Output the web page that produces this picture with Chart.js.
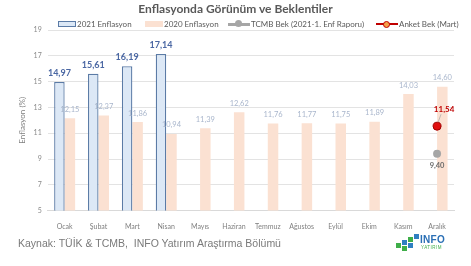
<!DOCTYPE html>
<html><head><meta charset="utf-8">
<script src="https://cdn.jsdelivr.net/npm/chart.js@4/dist/chart.umd.min.js"></script>
<style>
html,body{margin:0;padding:0;background:#fff;}
#wrap{position:relative;width:471px;height:266px;overflow:hidden;font-family:Lato,"Open Sans",sans-serif;}
#c{position:absolute;left:0;top:0;}
#title{position:absolute;left:0;width:471px;top:1px;text-align:center;font-weight:bold;font-size:12px;color:#595959;}
#legend{position:absolute;top:18px;left:58px;height:12px;font-size:8px;color:#595959;white-space:nowrap;}
.li{position:absolute;top:0;display:flex;align-items:center;height:12px;}
.box{display:inline-block;width:18px;height:6px;box-sizing:border-box;}
.ln{display:inline-block;position:relative;width:22px;height:3px;}
.ln i{position:absolute;left:7px;top:-2.5px;width:7px;height:7px;border-radius:50%;box-sizing:border-box;}
#foot{position:absolute;left:18px;top:237px;font-family:"Liberation Sans",Arial,sans-serif;font-size:10.5px;color:#7a7a7a;}
#logo{position:absolute;left:396px;top:234px;width:54px;height:20px;}
.sq{position:absolute;width:5px;height:5px;}
</style></head><body>
<div id="wrap">
<canvas id="c" width="471" height="266"></canvas>
<div id="title">Enflasyonda Görünüm ve Beklentiler</div>
<div id="legend"></div>
<div id="foot">Kaynak: TÜİK &amp; TCMB,&nbsp; INFO Yatırım Araştırma Bölümü</div>
<div id="logo">
  <div class="sq" style="left:0;top:9px;background:#3fae49"></div>
  <div class="sq" style="left:6px;top:6px;background:#2f7fc1"></div>
  <div class="sq" style="left:6px;top:12px;background:#3fae49"></div>
  <div class="sq" style="left:12px;top:3px;background:#3fae49"></div>
  <div class="sq" style="left:12px;top:9px;background:#2f7fc1"></div>
  <div class="sq" style="left:18px;top:0px;background:#2f7fc1"></div>
  <div style="position:absolute;left:24px;top:0px;font-family:'Liberation Sans',Arial,sans-serif;font-weight:bold;font-size:10px;color:#2a6fb5;letter-spacing:0.3px;">INFO</div>
  <div style="position:absolute;left:25px;top:11px;font-family:'Liberation Sans',Arial,sans-serif;font-size:4.5px;color:#3fae49;letter-spacing:0.5px;">YATIRIM</div>
</div>
</div>
<script>
const categories = ["Ocak","Şubat","Mart","Nisan","Mayıs","Haziran","Temmuz","Ağustos","Eylül","Ekim","Kasım","Aralık"];
const infl2021 = [14.97,15.61,16.19,17.14,null,null,null,null,null,null,null,null];
const infl2020 = [12.15,12.37,11.86,10.94,11.39,12.62,11.76,11.77,11.75,11.89,14.03,14.60];
const tcmbExp  = [null,null,null,null,null,null,null,null,null,null,null,9.40];
const surveyExp= [null,null,null,null,null,null,null,null,null,null,null,11.54];
const yTicks = [5,7,9,11,13,15,17,19];
const seriesNames = ["2021 Enflasyon","2020 Enflasyon","TCMB Bek (2021-1. Enf Raporu)","Anket Bek (Mart)"];

const fmt = v => v.toFixed(2).replace('.', ',');

// legend (HTML)
const leg = document.getElementById('legend');
const legPos = [0, 87, 170, 318];
const legMarks = [
  '<span class="box" style="background:#dce8f6;border:1px solid #5b7ba6"></span>',
  '<span class="box" style="background:#fbe1d2"></span>',
  '<span class="ln" style="background:#a6a6a6"><i style="background:#a6a6a6"></i></span>',
  '<span class="ln" style="background:#c00000;height:2px"><i style="background:#f4a04a;border:1.5px solid #c00000;top:-2.5px"></i></span>'
];
seriesNames.forEach((n,i)=>{
  const d=document.createElement('div');d.className='li';d.style.left=legPos[i]+'px';
  d.innerHTML=legMarks[i]+'<span style="margin-left:1px">'+n+'</span>';leg.appendChild(d);
});

const labelPlugin = {
  id:'vlabels',
  afterDatasetsDraw(chart){
    const ctx=chart.ctx;ctx.save();ctx.textAlign='center';ctx.textBaseline='middle';
    chart.data.datasets.forEach((ds,di)=>{
      const meta=chart.getDatasetMeta(di);
      meta.data.forEach((el,i)=>{
        const v=ds.data[i]; if(v==null) return;
        if(di===0){ctx.font='bold 9px Lato, sans-serif';ctx.fillStyle='#4a67a3';ctx.fillText(fmt(v),el.x,el.y-9);}
        else if(di===1){ctx.font='7.5px Lato, sans-serif';ctx.fillStyle='#a9b6cc';ctx.fillText(fmt(v),el.x,el.y-9);}
        else if(di===2){ctx.font='bold 7.5px Lato, sans-serif';ctx.fillStyle='#6b6b6b';ctx.fillText(fmt(v),el.x,el.y+12);}
        else if(di===3){
          ctx.strokeStyle='#a6a6a6';ctx.lineWidth=0.7;ctx.beginPath();ctx.moveTo(el.x+1,el.y-4);ctx.lineTo(el.x+4,el.y-12);ctx.stroke();
          ctx.font='bold 8px Lato, sans-serif';ctx.fillStyle='#c00000';ctx.fillText(fmt(v),el.x+7,el.y-17);
        }
      });
    });
    ctx.restore();
  }
};

new Chart(document.getElementById('c'),{
  data:{labels:categories,datasets:[
    {type:'bar',label:seriesNames[0],data:infl2021,backgroundColor:'#dce8f6',borderColor:'#5b7ba6',borderWidth:1.3,barPercentage:1,categoryPercentage:0.62,order:2},
    {type:'bar',label:seriesNames[1],data:infl2020,backgroundColor:'#fbe1d2',borderWidth:0,barPercentage:1,categoryPercentage:0.62,order:3},
    {type:'line',label:seriesNames[2],data:tcmbExp,borderColor:'#a6a6a6',backgroundColor:'#a6a6a6',pointRadius:4,pointBorderWidth:0,showLine:false,order:1},
    {type:'line',label:seriesNames[3],data:surveyExp,borderColor:'#a00000',backgroundColor:'#e01010',pointRadius:4,pointBorderWidth:1,showLine:false,order:0}
  ]},
  options:{
    responsive:false,animation:false,
    layout:{padding:{top:30,bottom:31,left:14,right:17}},
    plugins:{legend:{display:false},title:{display:false},tooltip:{enabled:false}},
    scales:{
      x:{grid:{display:false},border:{color:'#d9d9d9'},ticks:{color:'#7f7f7f',font:{family:'Lato',size:7},padding:4,maxRotation:0,autoSkip:false}},
      y:{min:5,max:19,afterBuildTicks:ax=>{ax.ticks=yTicks.map(v=>({value:v}));},
         grid:{color:'#e3e3e3',drawTicks:false},border:{display:false},
         ticks:{color:'#8a8a8a',font:{family:'Lato',size:7},padding:6},
         title:{display:true,text:'Enflasyon (%)',color:'#7f7f7f',font:{family:'Lato',size:8},padding:{bottom:0}}}
    }
  },
  plugins:[labelPlugin]
});
</script>
</body></html>
